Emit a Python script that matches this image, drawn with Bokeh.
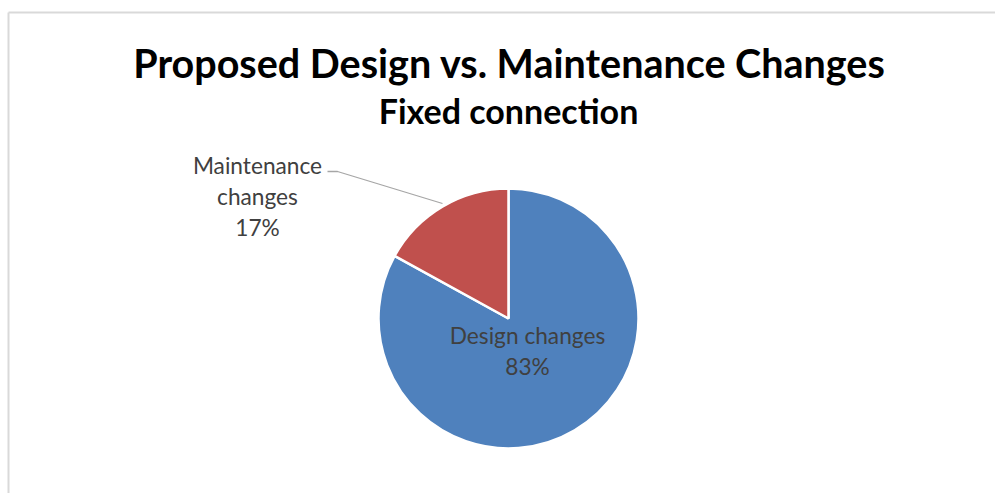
import math
from bokeh.plotting import figure
from bokeh.models import Range1d
from bokeh.core.properties import value
from bokeh.embed import file_html
from bokeh.resources import INLINE

# ---- data ----
categories = ["Design changes", "Maintenance changes"]
values = [83, 17]
colors = ["#4F81BD", "#C0504D"]
label_lines = [["Design changes", "83%"], ["Maintenance", "changes", "17%"]]
title_text = "Proposed Design vs. Maintenance Changes"
subtitle_text = "Fixed connection"

W, H = 995, 493
p = figure(width=W, height=H, output_backend="svg", toolbar_location=None,
           x_range=Range1d(0, W), y_range=Range1d(0, H), min_border=0)
p.axis.visible = False
p.grid.visible = False
p.outline_line_color = None
p.background_fill_color = "white"
p.border_fill_color = "white"

# chart frame (partially visible)
p.segment(x0=[8, 8], y0=[0, 481], x1=[8, W], y1=[481, 481],
          line_color="#D9D9D9", line_width=2)

# pie
cx, cy, r = 508, 175, 130
total = sum(values)
starts, ends = [], []
cum = 0
for v in values:
    starts.append(math.pi / 2 - 2 * math.pi * cum / total)
    cum += v
    ends.append(math.pi / 2 - 2 * math.pi * cum / total)
p.wedge(x=[cx] * len(values), y=[cy] * len(values), radius=r, radius_units="screen",
        start_angle=starts, end_angle=ends, direction="clock",
        fill_color=colors, line_color="white", line_width=2.5)

# leader line for maintenance label
p.line(x=[327, 337, 442], y=[322, 322, 290], line_color="#A6A6A6", line_width=1.3)

font = value("Lato")
# data labels
label_pos = [(527, 158), (257, 328)]
spacing = 31
for (lx, ly), lines in zip(label_pos, label_lines):
    n = len(lines)
    offs = [i * spacing for i in range(n)]
    p.text(x=[lx] * n, y=[ly] * n, text=lines, y_offset=offs, text_align="center",
           text_baseline="middle", text_color="#404040", text_font=font,
           text_font_size="22.7px")

# titles
p.text(x=[509], y=[431], text=[title_text], text_align="center", text_baseline="middle",
       text_color="black", text_font=font, text_font_style="bold", text_font_size="39.5px")
p.text(x=[508], y=[383], text=[subtitle_text], text_align="center", text_baseline="middle",
       text_color="black", text_font=font, text_font_style="bold", text_font_size="34px")

open("out.html", "w").write(file_html(p, INLINE))
